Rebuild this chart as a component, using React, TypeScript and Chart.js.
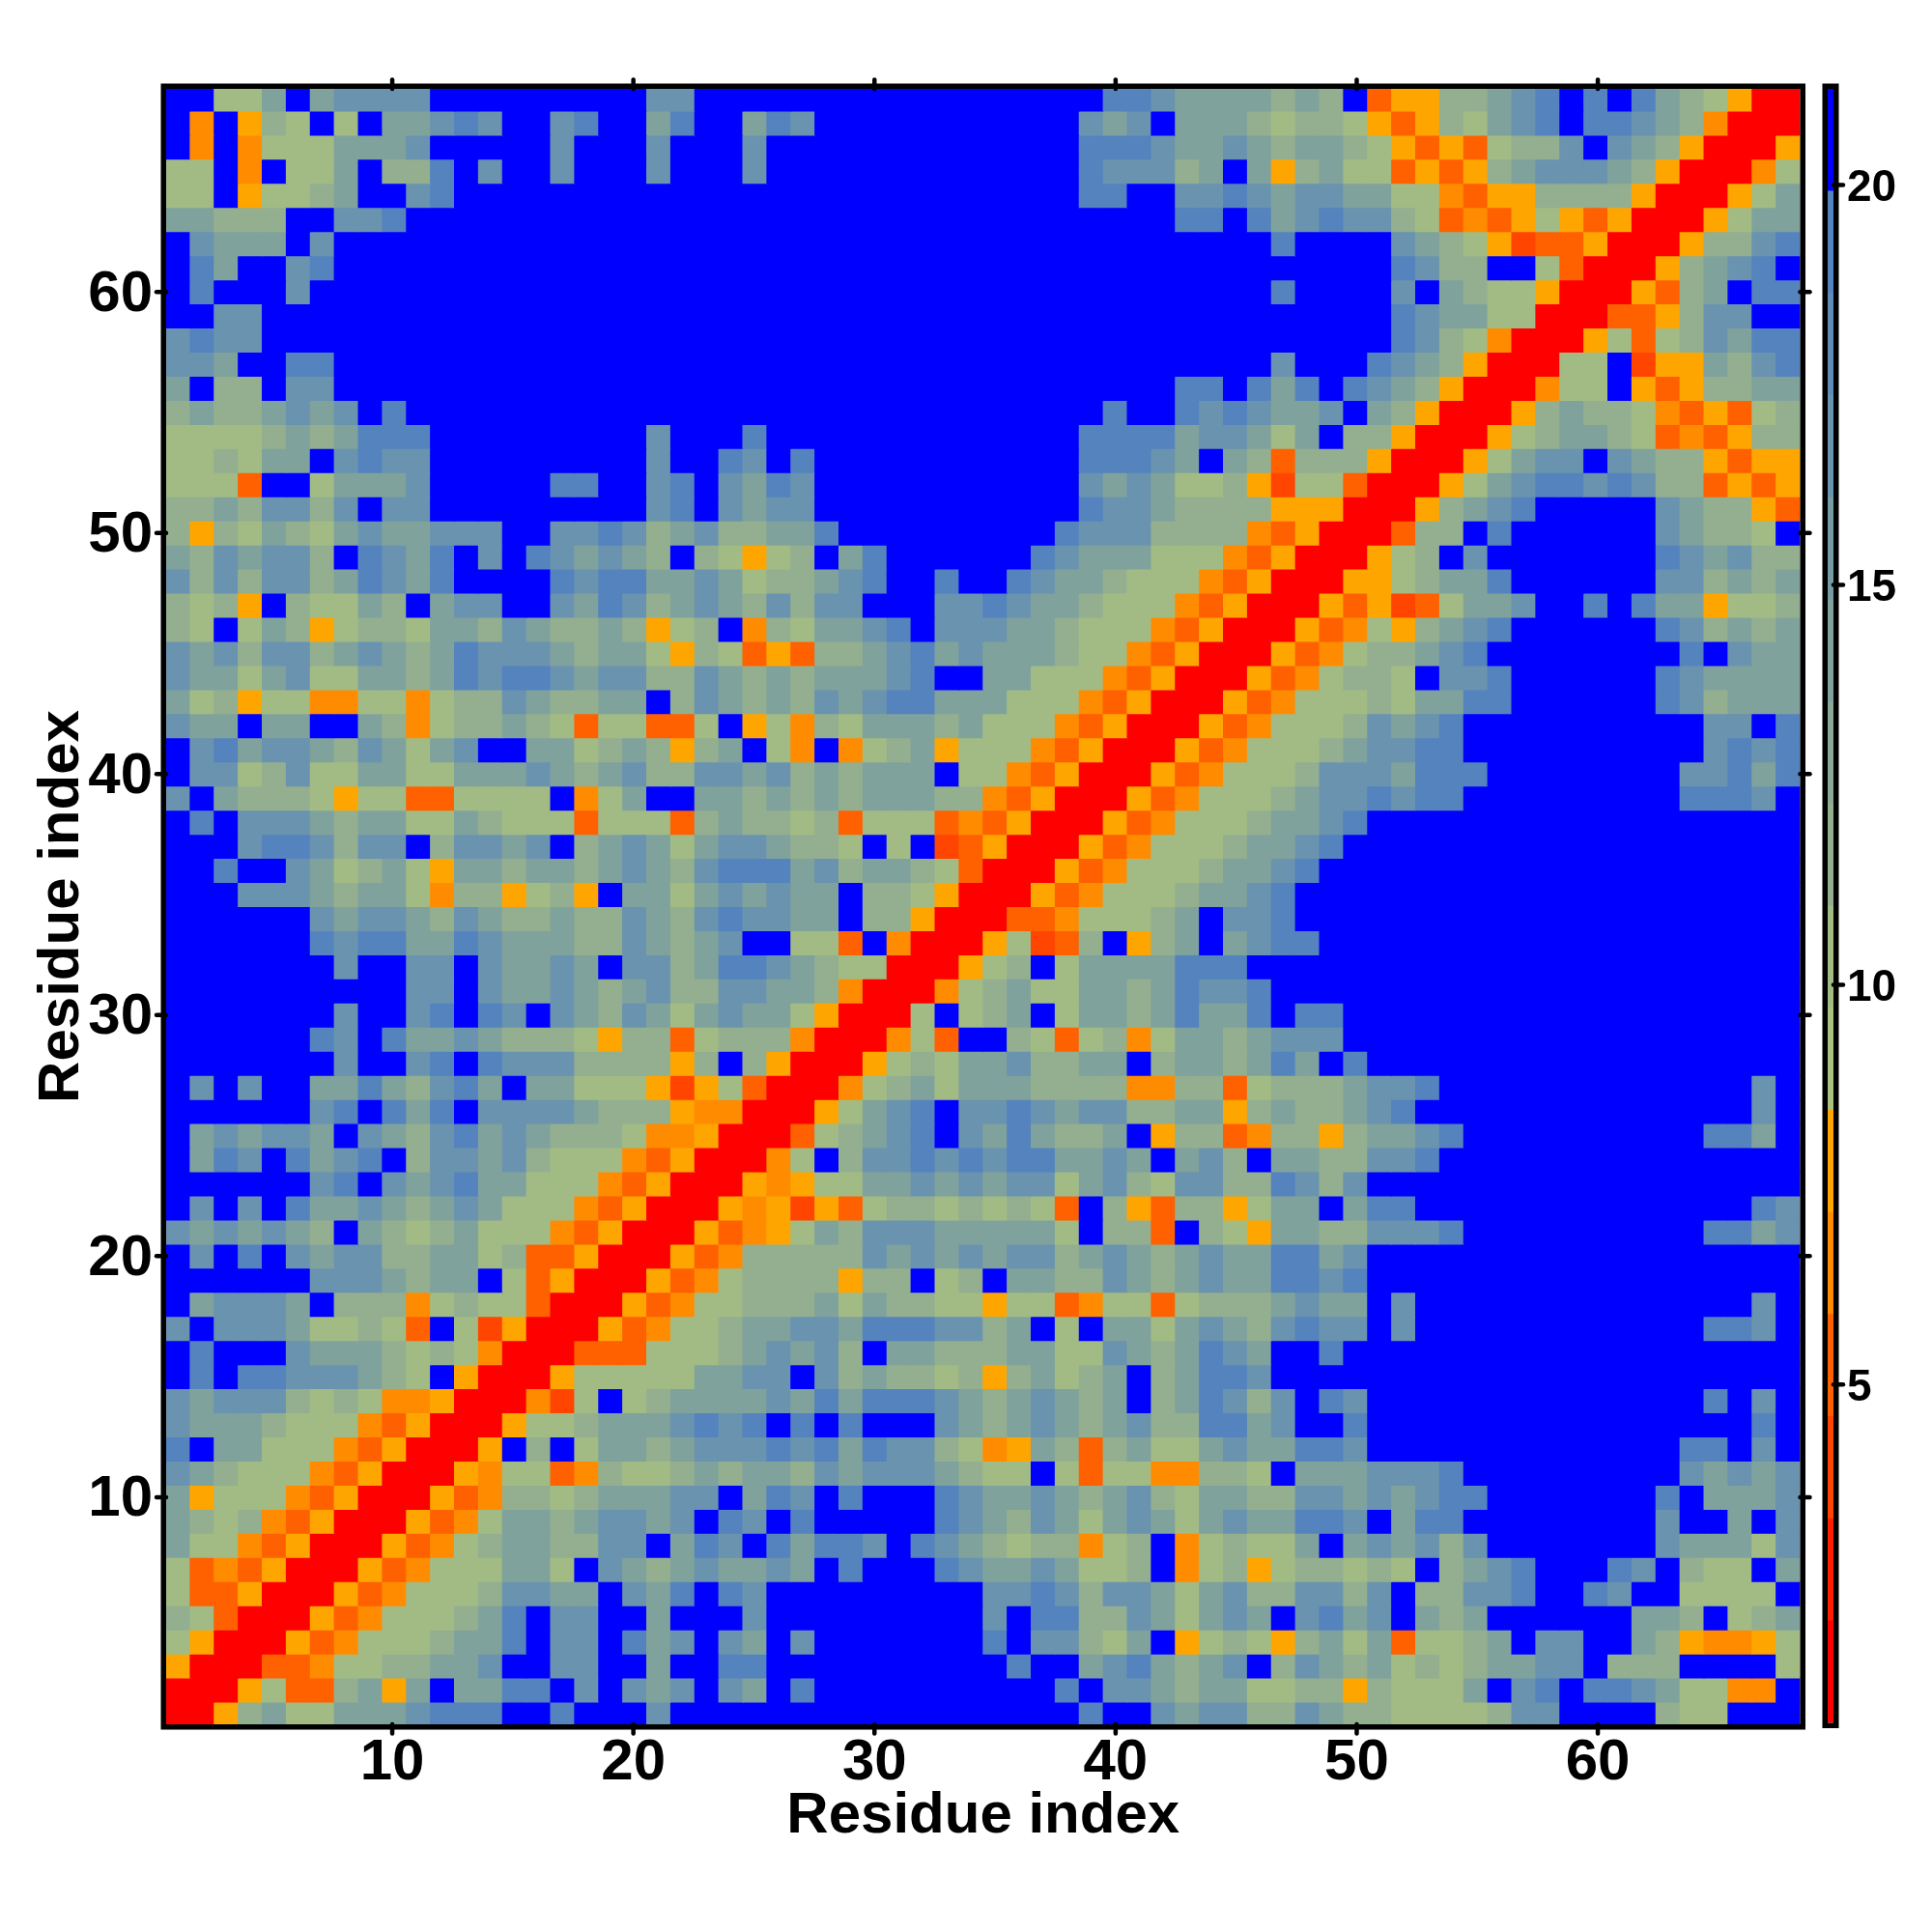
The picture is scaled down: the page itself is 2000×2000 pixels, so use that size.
import React, { useEffect, useRef } from "react";
import { Chart, registerables } from "chart.js";

Chart.register(...registerables);

// Cell codes, top row (residue 68) first. "12b" is shorthand for twelve "b" cells.
const leftRows = [
  "2bggibijjjj9bjj12b","bnbohgbgbiijkj2bjk2bik2bikj7b","bnbngggiiij5bj3bj3bj9b","ggbnbggibhhkbj2bj3bj3bj9b",
  "ggbogghi2bjk22b","iihhh2bjjk24b","bjiiibj27b","bki2bjk27b","bk3bj28b","2bjj30b","jkjj30b","jji2bkk27b","ibhhbjj27b",
  "hihhijijbk24b","gggghihikkk9bj3bk9b","gghgiibjkjj9bj2bkjbk7b","gggr2bgiiij5bkk2bjkbjikj7b","hhihjjhjbjj9bjkbjijj7b",
  "hohgihgijiijjj2bjjkjhijhhiik6b","ihjijjhbkjikbjbkjijihbhgoghbik4b","jhjhjjhikjik4bkjkkiijighhijk2bkb",
  "hghobhggihbijj2bjikjhijihjhjj3bjj","hgbgihoghhgiihjihhihoghbnhgiijkbjj","jijhjjhijihikjjjihiigohgrorhhijkij",
  "jiigijggiihikjkkjijjhhjihihiiijk2b","ighoggnnggnghhjihhiibhjihihjijkkii","jiibii2bihnghhihgrggrrgbognhgiiihi",
  "bjkijjihjigijbbiighihohibgnbnghiog","bjjghjggiiggiiijihijhhjjijhihiiibg","jbihhhgoggrrggggbngibbiihihihiiihh",
  "bkbjjjihiiggihgggrgggrhihhghrgggrn","bbbjkkjhjjbhjjijbhijigijjihhgbgbQr","bbkbbjighigoiihiihijihjkkkijhiihgr",
  "bbbjjjihiignhhoghobiigijijiibhhgoR","6bjijjihjihhihhjihjkjjiibhhoRR","6bkjkkiikjiiihhjihijbbggrbnRRR",
  "7bjbbjjbjiijibjjhikkjihggRRRo","10bjjbjiijihijhhjjiihnRRRng","7bjbbjkbkjbjihjigijiigoRRRgbg",
  "6bkjbkiijihhhgohhrghhhnRRRngrb","7bjbbjkbkjjjhhhhohbhoRRRoghgi","bjbjbbiikihjkibiigggoQogrRRRnghigi",
  "6bjkbkikbjjjjihhhonnRRRogijkbj","bijijjibjihjkijihhhgnnoRRRrghijkbj","bikjbkijkbhjjijhgggnroRRRngbhjjkjk",
  "6bjkbjijkiigggnroRRRonoggiijij","bjbjbkiijihijigggnroRRRonoQorghhgh","jijijihbihghigggnroRRRornogihjjjii",
  "bjbkbjijjhhiighrroRRRornhhhhhjijij","6bjjjihiibgroRRRornghhhhohhbgh","bijjjibhhhnghggrRRRorngghhhigihhgg",
  "jbjjjigghgrbgQoRRRorngghiijjikkkjj","bkbbbjiiihghgnRRRrrrggghijijhbiihh","bkbkkjjjihgboRRRogggggiijjbjhihhgh",
  "jijjjhghgnnoRRRnQgbghiiiijikikkkji","jiiihgggnroRRRogghiiijkjkbkbkbbbji","kbiigggnroRRRobhbgiihijjjkjkikjjhg",
  "jihgggnroRRRonggrnhgghihiihjijjjih","iogggnroRRRornhhghiiijjbikjbkbbbkj","ihghnroRRRorngiihijjijbkjbkbbbbbkj",
  "iggnroRRRornghiihhjjbikjbkikkjbkji","grnroRRRorngggiigbjihijiijibkbbbkj","grroRRRornggghjjiibjikbkj9b",
  "hgrRRRornggghikbjjbbibbbj9b","goRRRornggghiikbjjbkijbjibj7b","oRRRrrngghhiijbbjjbbibbkk9b",
  "RRRogrrhioibiikkbjbjijbjibk7b","RRohiggiiijkkkbbkbbbj13b",
];
const rightRows = [
  "bbbbbkkjiiiihihbroohhijkbkbkihgoRR","bbbbjijbiiihghhgorohgijkbkkjihnRRR","bbbbkkkjiijihiihgororghhjbjihoRRRo",
  "bbbbkjjjhibiohiggrorohijjjihoRRRng","bbbbkkbbjjkjijjiiggnroohhhhoRRRogi","bbbbbbbbkkbkijkjjhgrnrogoroRRRogii",
  "bbbbbbbbbbbbkbbbbjihgoQrroRRRohhjk","17bkjhh2bgrRRRohijkb","12bk4bjbihggoRRRorhibkk","17bkjiiggRRRrrohjjbb",
  "17bkjhgnRRRogrghjikk","12bj3bkjihoRRRggbQooihjk","8bkkbkikbkjihoRRRnggborohhii","5bk2bkjkjiijbihoRRRohihhgnrorgh",
  "4bkkkkijjigibhhoRRRoghiihgrnrohh","4bkkkjibihrhhhoRRRogijjbjihhoroo","4bjijigghoQggrRRRogijkkjkjhhroro",
  "4bkjjihhhhoooRRRohijk5bjihhor","3bkjjjhhhhnroRRRrhhbk6bjihhgb","2bkjiiigggnroRRRoghbj7bkjijhh",
  "bkjiihgggnroRRRooghiik6bjjhihi","kjiihgggnroRRRoroQrgiij2bkbkiioggh","jiihgggnroRRRorngohijk6bkjhihi",
  "iiihggnroRRRornghhijk8bkbjii","iigggnroRRRornghhgbjjk6bkjiiii","igggnroRRRornggghgiikk6bkjhiii",
  "gggnroRRRornggghjijk10bjjbk","ggnroRRRornggghijjkk10bjkjk","gnroRRRornggghjjjikkk8bjjkik","nroRRRornggghijjkjkk9bkkkjb",
  "roRRRornggghiijk18b","oRRRornggghiijk19b","RRRornggghiijk20b","RRornggghiijk21b","Rrrnggghibjjk21b","ogQrhbohibijkk20b",
  "ghbgiiiikkk23b","higgiihikjjk22b","hibgiihikiikbkk19b","bhgrghngiihijjj19b","ijhhiibhiihikibk18b","iihhhhnnhhrghhhijjk13bjb",
  "jkjijjhhiiohihhijk14bjb","ikihhibohhrnhhohiijk10bkkib","jkkiijibijhbiihhjjk15b","ijjgijhgjjhhkjhj18b",
  "ghgrbhorhhogiibikk14bkj","iiigbhhrbhgoiihhjjjk10bkkij","ijjhijihijiikkij18b","biihhjihijiikkjk18b",
  "oggrnggrghhhijiibj14bjb","hibgbiigijihjkjjbj12bkkjb","hiiggjihikji2bk19b","ohighibhikkj22b",
  "hijihibhikjhjbkj14bkbjb","hijihijhhkkijbbk16bkb","noihrhiggijiikkj13bkkbjb","ggbgrggnnhhgbiiijjjk9bjijij",
  "iijihijhgiihhjjijijkk7bkbiiij","ihjigijigijiikkjbikk8bjbbibj","hghhnghbnghggibijijhj7bjiiigj",
  "iijigghbnghoghhghgbhijk3bkjbhggbi","jjkjhjjigijhhjjhjbhhjjk2bkj2bggggb","jbkkhhjigijibjkijbihi6biihbghi",
  "kbjjhgiboghgohigirgghibjj2bihonnog","bkbbijkihijbhjihighghiijjbhhh4bg","bbbkbjjihiigghhohgggibjkbkkjiggnnb",
  "4bk2bjijjhhjihhgggghjj4bhgg3b",
];

const codeValues: Record<string, number> = {
  R: 1.4, Q: 3.96, r: 5.2, n: 6.5, o: 7.8, g: 10.35, h: 11.6, i: 14.2, j: 16.7, k: 19.3, b: 20.6,
};
const bandColors = [
  "#FF0000", "#FF2000", "#FF4500", "#FF6000", "#FF8C00", "#FFA500",
  "#AAC080", "#A2BB85", "#93AF90", "#8AA996", "#80A29C", "#759BA5", "#6A93AF", "#5F8BB6", "#5483BE", "#0000FF",
];
const scaleMin = 0.77;
const bandStep = 1.277;
const residueTicks = [10, 20, 30, 40, 50, 60];
const colorbarTicks = [5, 10, 15, 20];
const axisTitle = "Residue index";
const residues = Array.from({ length: 68 }, (_, i) => i + 1);

const expand = (s: string) => s.replace(/(\d+)b/g, (_, n) => "b".repeat(Number(n)));
const fullRows = leftRows.map((l, i) => expand(l) + expand(rightRows[i]));
const colorOf = (v: number) =>
  bandColors[Math.min(bandColors.length - 1, Math.floor((v - scaleMin) / bandStep))];

const FONT = "'Liberation Sans', Arial, sans-serif";

function roundTick(ctx: CanvasRenderingContext2D, x1: number, y1: number, x2: number, y2: number, w = 4.5) {
  ctx.beginPath();
  ctx.lineCap = "round";
  ctx.lineWidth = w;
  ctx.strokeStyle = "#000";
  ctx.moveTo(x1, y1);
  ctx.lineTo(x2, y2);
  ctx.stroke();
}

const mainFrame = {
  id: "mainFrame",
  afterDraw(chart: any) {
    const { ctx, scales } = chart;
    const x = scales.x2;
    const y = scales.y;
    const L = 172, R = 1863.5, T = 92, B = 1785;
    ctx.save();
    x.ticks.forEach((_: any, i: number) => {
      const px = x.getPixelForTick(i);
      roundTick(ctx, px, T, px, T - 9.5);
      roundTick(ctx, px, B, px, B + 9.5);
    });
    y.ticks.forEach((_: any, i: number) => {
      const py = y.getPixelForTick(i);
      roundTick(ctx, L, py, L - 10, py);
      roundTick(ctx, R, py, R + 10, py);
    });
    ctx.lineCap = "butt";
    ctx.lineWidth = 5.5;
    ctx.strokeStyle = "#000";
    ctx.strokeRect(L - 2.75, T - 2.75, R - L + 5.5, B - T + 5.5);
    ctx.restore();
  },
};

const barFrame = {
  id: "barFrame",
  afterDraw(chart: any) {
    const { ctx, chartArea: a, scales } = chart;
    ctx.save();
    scales.y.ticks.forEach((_: any, i: number) => {
      const py = scales.y.getPixelForTick(i);
      roundTick(ctx, a.right, py, a.right + 10, py);
    });
    ctx.lineWidth = 5.5;
    ctx.strokeStyle = "#000";
    ctx.strokeRect(a.left - 2.75, a.top - 2.75, a.right - a.left + 5.5, a.bottom - a.top + 5.5);
    ctx.restore();
  },
};

export default function App() {
  const mainRef = useRef<HTMLCanvasElement>(null);
  const barRef = useRef<HTMLCanvasElement>(null);

  useEffect(() => {
    const datasets = fullRows.map((row, r) => {
      const yVal = 68 - r;
      const vals = residues.map((_, c) => codeValues[row[c]]);
      return {
        label: `row ${yVal}`,
        data: residues.map(() => [yVal - 0.5, yVal + 0.5]),
        backgroundColor: vals.map(colorOf),
        borderWidth: 0,
        inflateAmount: 0.5,
        barPercentage: 1,
        categoryPercentage: 1,
        grouped: false,
      };
    });

    const main = new Chart(mainRef.current!, {
      type: "bar",
      data: { labels: residues.map(String), datasets: datasets as any },
      options: {
        animation: false,
        responsive: false,
        events: [],
        layout: { autoPadding: false, padding: { left: 34, top: 90, right: 136.5, bottom: 90 } },
        plugins: { legend: { display: false }, tooltip: { enabled: false } },
        scales: {
          x: { type: "category", display: false },
          x2: {
            type: "linear", axis: "x", position: "bottom", min: 0.623, max: 68.39, offset: false,
            grid: { display: false, drawTicks: false, offset: false },
            border: { display: false },
            afterBuildTicks: (s: any) => { s.ticks = residueTicks.map((value) => ({ value })); },
            afterFit: (s: any) => { s.height = 123; },
            ticks: {
              maxRotation: 0, minRotation: 0, padding: 8, color: "#000",
              font: { family: FONT, size: 60, weight: "bold", lineHeight: 1 },
            },
            title: {
              display: true, text: axisTitle, color: "#000", padding: 0,
              font: { family: FONT, size: 60, weight: "bold", lineHeight: 1 },
            },
          },
          y: {
            type: "linear", min: 0.5, max: 68.5,
            grid: { display: false, drawTicks: false },
            border: { display: false },
            afterBuildTicks: (s: any) => { s.ticks = residueTicks.map((value) => ({ value })); },
            afterFit: (s: any) => { s.width = 138; },
            ticks: {
              padding: 14, labelOffset: 3, color: "#000",
              font: { family: FONT, size: 60, weight: "bold", lineHeight: 1 },
            },
            title: {
              display: true, text: axisTitle, color: "#000", padding: 0,
              font: { family: FONT, size: 60, weight: "bold", lineHeight: 1 },
            },
          },
        },
      },
      plugins: [mainFrame],
    } as any);

    const colorbar = new Chart(barRef.current!, {
      type: "bar",
      data: {
        labels: ["scale"],
        datasets: bandColors.map((c, i) => ({
          label: `band ${i}`,
          data: [[scaleMin + i * bandStep, scaleMin + (i + 1) * bandStep]],
          backgroundColor: c,
          borderWidth: 0,
          barPercentage: 1,
          categoryPercentage: 1,
          grouped: false,
        })) as any,
      },
      options: {
        animation: false,
        responsive: false,
        events: [],
        layout: { autoPadding: false, padding: { left: 32, top: 92, right: 0, bottom: 216.5 } },
        plugins: { legend: { display: false }, tooltip: { enabled: false } },
        scales: {
          x: { display: false },
          y: {
            type: "linear", position: "right",
            min: scaleMin, max: scaleMin + bandColors.length * bandStep,
            grid: { display: false, drawTicks: false },
            border: { display: false },
            afterBuildTicks: (s: any) => { s.ticks = colorbarTicks.map((value) => ({ value })); },
            afterFit: (s: any) => { s.width = 102; },
            ticks: {
              padding: 14, labelOffset: 4, color: "#000",
              font: { family: FONT, size: 46, weight: "bold", lineHeight: 1 },
            },
          },
        },
      },
      plugins: [barFrame],
    } as any);

    return () => {
      main.destroy();
      colorbar.destroy();
    };
  }, []);

  return (
    <div style={{ position: "absolute", left: 0, top: 0, width: 2000, height: 2000, background: "#fff" }}>
      <canvas ref={mainRef} width={2000} height={2000} style={{ position: "absolute", left: 0, top: 0 }} />
      <canvas ref={barRef} width={140} height={2000} style={{ position: "absolute", left: 1860, top: 0 }} />
    </div>
  );
}
